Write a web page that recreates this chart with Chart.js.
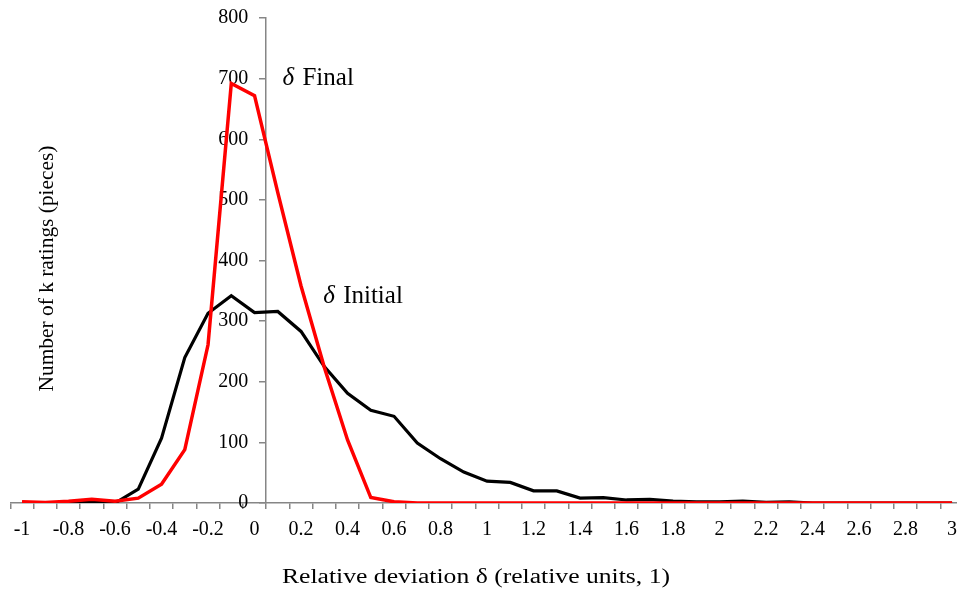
<!DOCTYPE html>
<html><head><meta charset="utf-8">
<script src="https://cdn.jsdelivr.net/npm/chart.js@4/dist/chart.umd.min.js"></script>
<style>
html,body{margin:0;padding:0;overflow:hidden;background:#fff;width:957px;height:591px}
#wrap{position:relative;width:970px;height:591px}
</style>
</head><body><div id="wrap"><canvas id="c" width="970" height="591"></canvas></div>
<script>
const categories = ['-1','-0.9','-0.8','-0.7','-0.6','-0.5','-0.4','-0.3','-0.2','-0.1','0',
  '0.1','0.2','0.3','0.4','0.5','0.6','0.7','0.8','0.9','1',
  '1.1','1.2','1.3','1.4','1.5','1.6','1.7','1.8','1.9','2',
  '2.1','2.2','2.3','2.4','2.5','2.6','2.7','2.8','2.9','3'];
const initialCounts = [0,0,0,1,0,23,107,240,313,342,314,316,283,225,181,153,143,99,73,51,
  36,34,20,20,8,9,5,6,3,2,2,3,1,2,0,0,0,0,0,0,0];
const finalCounts = [2,1,3,6,3,8,31,88,261,692,672,512,358,224,104,9,2,0,0,0,
  0,0,0,0,0,0,0,0,0,0,0,0,0,0,0,0,0,0,0,0,0];
const yMin = 0, yMax = 800, yStep = 100;
const xTitle = 'Relative deviation \u03b4 (relative units, 1)';
const yTitle = 'Number of k ratings (pieces)';
const finalName = 'Final', initialName = 'Initial';

const SERIF = '"Liberation Serif", "Times New Roman", serif';
const axisGray = '#868686';

// shift y tick labels left of the crossing axis (tick length + gap)
const yLabelShift = {
  id: 'yLabelShift',
  beforeDraw(chart) {
    const s = chart.scales.y;
    const items = s.getLabelItems();
    if (!items._shifted) {
      items.forEach(it => { it.options.translation[0] -= 18; });
      items._shifted = true;
    }
  }
};

const textPlugin = {
  id: 'texts',
  afterDraw(chart) {
    const ctx = chart.ctx;
    const xs = chart.scales.x, ys = chart.scales.y;
    // y title
    ctx.save();
    ctx.fillStyle = '#000';
    ctx.font = '21px ' + SERIF;
    const wy = ctx.measureText(yTitle).width;
    ctx.translate(47, 268.5);
    ctx.rotate(-Math.PI / 2);
    ctx.scale(246 / wy, 1);
    ctx.textAlign = 'center';
    ctx.textBaseline = 'middle';
    ctx.fillText(yTitle, 0, 0);
    ctx.restore();
    // x title
    ctx.save();
    ctx.fillStyle = '#000';
    ctx.font = '20px ' + SERIF;
    const w = ctx.measureText(xTitle).width;
    ctx.translate(476, 578);
    ctx.scale(388 / w, 1);
    ctx.textAlign = 'center';
    ctx.textBaseline = 'middle';
    ctx.fillText(xTitle, 0, 0);
    ctx.restore();
    // series annotations
    const lab = (name, xi, yv) => {
      const x = xs.getPixelForValue(xi), y = ys.getPixelForValue(yv);
      ctx.save();
      ctx.fillStyle = '#000';
      ctx.textAlign = 'left';
      ctx.textBaseline = 'alphabetic';
      ctx.font = 'italic 25px ' + SERIF;
      ctx.fillText('\u03b4', x, y);
      ctx.font = '25px ' + SERIF;
      ctx.fillText(name, x + 20, y);
      ctx.restore();
    };
    lab(finalName, 11.2, 689);
    lab(initialName, 12.95, 330);
  }
};

new Chart(document.getElementById('c'), {
  type: 'line',
  data: {
    labels: categories,
    datasets: [
      { label: 'δ Final', data: finalCounts, borderColor: '#ff0000', borderWidth: 3.5,
        pointRadius: 0, tension: 0, fill: false },
      { label: 'δ Initial', data: initialCounts, borderColor: '#000000', borderWidth: 3.2,
        pointRadius: 0, tension: 0, fill: false }
    ]
  },
  options: {
    responsive: false,
    animation: false,
    devicePixelRatio: 1,
    layout: { padding: { left: 10.4, right: 6.3, top: 18, bottom: 0 } },
    plugins: { legend: { display: false }, tooltip: { enabled: false } },
    scales: {
      x: {
        type: 'category',
        offset: true,
        grid: { offset: true, drawOnChartArea: false, drawTicks: true, tickLength: 6, color: axisGray, lineWidth: 1.5 },
        border: { display: true, color: axisGray, width: 1.5 },
        ticks: {
          autoSkip: false, maxRotation: 0, minRotation: 0, padding: 9,
          color: '#000', font: { family: SERIF, size: 20 },
          callback: (v, i) => (i % 2 === 0 ? categories[i] : '')
        },
        afterFit: (s) => { s.height = 88; }
      },
      y: {
        position: { x: 10.5 },
        min: yMin, max: yMax,
        grid: { drawOnChartArea: false, drawTicks: true, tickLength: 6, color: axisGray, lineWidth: 1.5 },
        border: { display: true, color: axisGray, width: 1.5 },
        ticks: { stepSize: yStep, padding: 0, color: '#000', font: { family: SERIF, size: 20 } }
      }
    }
  },
  plugins: [yLabelShift, textPlugin]
});
</script>
</body></html>
